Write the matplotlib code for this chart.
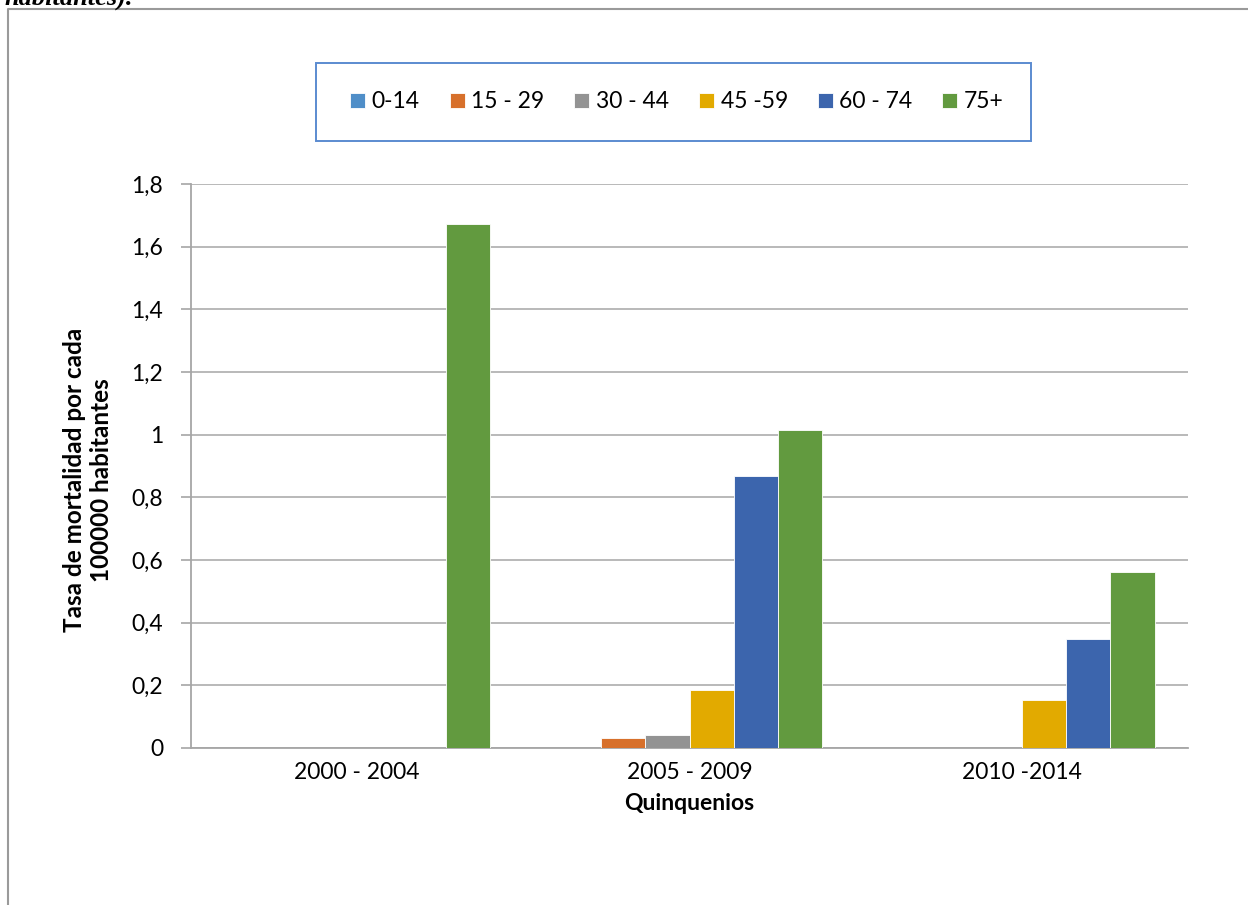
import numpy as np
import matplotlib
matplotlib.use("Agg")
import matplotlib.pyplot as plt
from matplotlib.patches import Rectangle
from matplotlib.lines import Line2D

categories = ['2000 - 2004', '2005 - 2009', '2010 -2014']
series_names = ['0-14', '15 - 29', '30 - 44', '45 -59', '60 - 74', '75+']
s_0_14 = [0.0, 0.0, 0.0]
s_15_29 = [0.0, 0.032, 0.0]
s_30_44 = [0.0, 0.041, 0.0]
s_45_59 = [0.0, 0.185, 0.153]
s_60_74 = [0.0, 0.868, 0.347]
s_75 = [1.672, 1.015, 0.563]
yticks = [0, 0.2, 0.4, 0.6, 0.8, 1.0, 1.2, 1.4, 1.6, 1.8]
ytick_labels = ['0', '0,2', '0,4', '0,6', '0,8', '1', '1,2', '1,4', '1,6', '1,8']

colors = ['#4f8ec8', '#d7702b', '#939393', '#e2aa00', '#3c65ad', '#629a3f']
series = [s_0_14, s_15_29, s_30_44, s_45_59, s_60_74, s_75]

FONT = 'Lato'
FS = 16.5
W, H = 1248, 905
fig = plt.figure(figsize=(W / 100, H / 100), dpi=100)
fig.patch.set_facecolor('white')

ax = fig.add_axes([191 / W, 1 - 748 / H, 997 / W, 564 / H])

x = np.arange(len(categories))
bw = 0.8 / len(series)
handles = []
for i, (vals, c, name) in enumerate(zip(series, colors, series_names)):
    offs = (i - (len(series) - 1) / 2) * bw
    b = ax.bar(x + offs, vals, bw, color=c, edgecolor='white', linewidth=0.6,
               label=name, zorder=3)
    handles.append(b)

ax.set_xlim(-0.5, 2.5)
ax.set_ylim(0, 1.8)
ax.set_yticks(yticks)
ax.set_yticklabels(ytick_labels, fontfamily=FONT, fontsize=FS)
ax.set_xticks(x)
ax.set_xticklabels(categories, fontfamily=FONT, fontsize=FS)
ax.tick_params(axis='x', length=0, pad=10)
ax.tick_params(axis='y', length=7, width=1.2, color='#a6a6a6', pad=13)
ax.yaxis.grid(True, color='#b3b3b3', linewidth=1.3, zorder=0)
ax.set_axisbelow(True)
for s in ['top', 'right']:
    ax.spines[s].set_visible(False)
ax.spines['left'].set_color('#a6a6a6')
ax.spines['left'].set_linewidth(1.3)
ax.spines['bottom'].set_color('#a6a6a6')
ax.spines['bottom'].set_linewidth(1.3)

ax.set_xlabel('Quinquenios', fontfamily=FONT, fontsize=FS, fontweight='bold', labelpad=7)
fig.text(88 / W, 1 - 480 / H, 'Tasa de mortalidad por cada\n100000 habitantes',
         rotation=90, ha='center', va='center', fontfamily=FONT, fontsize=17.5,
         fontweight='bold', linespacing=1.25)

# legend box
fig.patches.append(Rectangle((316 / W, 1 - 141 / H), 715 / W, 78 / H,
                             transform=fig.transFigure, fill=False,
                             edgecolor='#5b8bd0', linewidth=1.4))
leg = fig.legend(handles=handles, labels=series_names, loc='center',
                 bbox_to_anchor=(677 / W, 1 - 102 / H), ncol=6, frameon=False,
                 prop={'family': FONT, 'size': FS}, handlelength=0.65,
                 handleheight=0.65, handletextpad=0.3, columnspacing=1.3)

# outer chart border (left and top)
fig.lines.append(Line2D([8 / W, 8 / W, 1.0], [0.0, 1 - 9 / H, 1 - 9 / H],
                        transform=fig.transFigure, color='#9a9a9a', linewidth=1.5))

# cropped caption text at top (cut off at the image edge, as in the source)
fig.text(4 / W, 1 - 5 / H, 'habitantes).', ha='left', va='baseline',
         fontfamily='Liberation Serif', fontsize=19, fontweight='bold', fontstyle='italic')

fig.savefig('out.png', dpi=100)
